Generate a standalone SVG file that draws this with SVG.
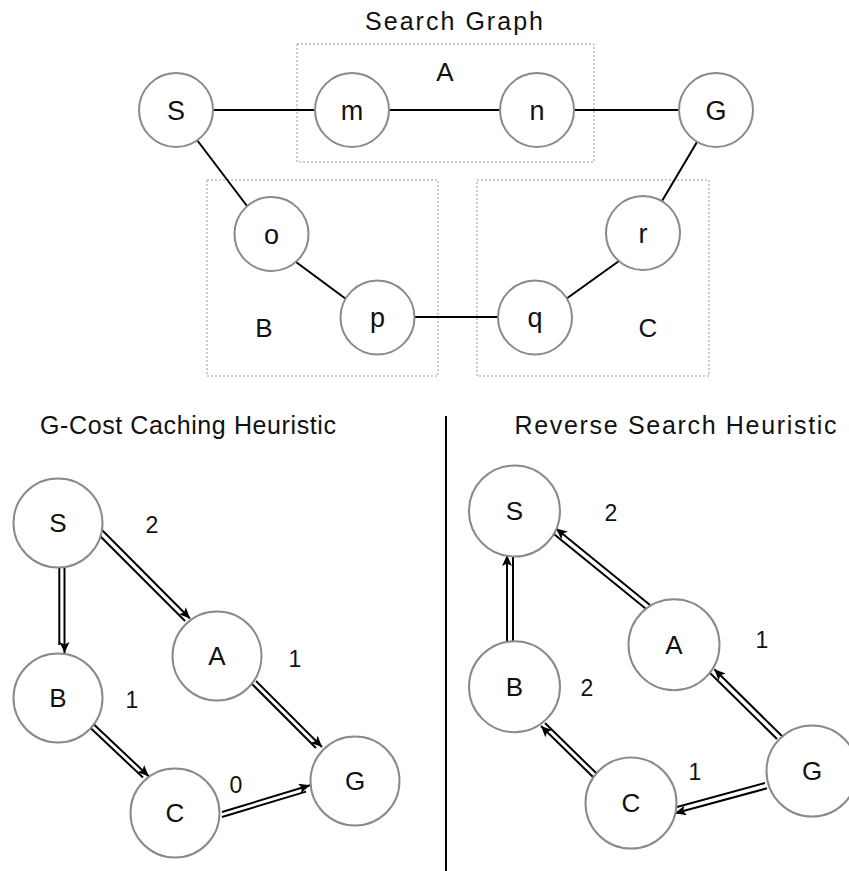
<svg xmlns="http://www.w3.org/2000/svg" width="849" height="871" viewBox="0 0 849 871">
<style>
text{font-family:"Liberation Sans",Arial,sans-serif;fill:#111;text-anchor:middle}
.title{font-size:25px}
.lbl{font-size:27px}
.blbl{font-size:26px}
.num{font-size:23px}
.node circle{fill:#fff;stroke:#8a8a8a;stroke-width:2}
.box{fill:none;stroke:#999;stroke-width:1;stroke-dasharray:2 2}
.edge{stroke:#000;stroke-width:2;fill:none}
.dbl{stroke:#000;stroke-width:2;fill:none}
</style>
<defs>
<marker id="ah" markerUnits="userSpaceOnUse" markerWidth="12" markerHeight="10" refX="11" refY="5" orient="auto">
<path d="M0,0 L11,5 L0,10 L2.5,5 z" fill="#000"/>
</marker>
</defs>
<rect width="849" height="871" fill="#fff"/>
<text class="title" x="454" y="30" textLength="178">Search Graph</text>
<g id="groups">
<rect class="box" x="297" y="44" width="297" height="118"/>
<text class="blbl" x="445" y="81">A</text>
<rect class="box" x="207" y="180" width="231" height="196"/>
<text class="blbl" x="264" y="337">B</text>
<rect class="box" x="477" y="180" width="232" height="196"/>
<text class="blbl" x="648" y="337">C</text>
</g>
<g id="top-edges">
<line class="edge" x1="213" y1="110" x2="315" y2="110"/>
<line class="edge" x1="389" y1="110" x2="500" y2="110"/>
<line class="edge" x1="574" y1="110" x2="679" y2="110"/>
<line class="edge" x1="197" y1="140" x2="247" y2="206"/>
<line class="edge" x1="296" y1="262" x2="346" y2="299"/>
<line class="edge" x1="414" y1="317" x2="498" y2="317"/>
<line class="edge" x1="566" y1="299" x2="619" y2="261"/>
<line class="edge" x1="662" y1="201" x2="697" y2="142"/>
</g>
<g id="node-S-top" class="node"><circle cx="176" cy="110" r="37"/><text class="lbl" x="176" y="120">S</text></g>
<g id="node-m" class="node"><circle cx="352" cy="110" r="37"/><text class="lbl" x="352" y="120">m</text></g>
<g id="node-n" class="node"><circle cx="537" cy="110" r="37"/><text class="lbl" x="537" y="120">n</text></g>
<g id="node-G-top" class="node"><circle cx="716" cy="110" r="37"/><text class="lbl" x="716" y="120">G</text></g>
<g id="node-o" class="node"><circle cx="271.5" cy="234" r="37"/><text class="lbl" x="271.5" y="244">o</text></g>
<g id="node-p" class="node"><circle cx="377.5" cy="317.5" r="37"/><text class="lbl" x="377.5" y="327">p</text></g>
<g id="node-q" class="node"><circle cx="535" cy="317.5" r="37"/><text class="lbl" x="535" y="327">q</text></g>
<g id="node-r" class="node"><circle cx="643" cy="233" r="37"/><text class="lbl" x="643" y="243">r</text></g>

<text class="title" x="188" y="434" textLength="296">G-Cost Caching Heuristic</text>
<text class="title" x="675.5" y="434" textLength="322">Reverse Search Heuristic</text>
<line x1="446" y1="416" x2="446" y2="871" stroke="#000" stroke-width="2"/>

<g id="connectors">
<line class="dbl" x1="64.5" y1="568" x2="64.5" y2="653" marker-end="url(#ah)"/>
<line class="dbl" x1="59.3" y1="568" x2="59.3" y2="645"/>
<line class="dbl" x1="102" y1="530" x2="190" y2="618.5" marker-end="url(#ah)"/>
<line class="dbl" x1="99" y1="535" x2="185" y2="621"/>
<line class="dbl" x1="256" y1="681" x2="322" y2="747" marker-end="url(#ah)"/>
<line class="dbl" x1="252" y1="684" x2="316" y2="748"/>
<line class="dbl" x1="93.7" y1="724.2" x2="148.7" y2="776.2" marker-end="url(#ah)"/>
<line class="dbl" x1="90.3" y1="727.8" x2="143" y2="777.6"/>
<line class="dbl" x1="222" y1="812" x2="310" y2="785.3" marker-end="url(#ah)"/>
<line class="dbl" x1="222" y1="817" x2="306" y2="791.6"/>

<line class="dbl" x1="507" y1="642" x2="507" y2="555" marker-end="url(#ah)"/>
<line class="dbl" x1="513" y1="642" x2="513" y2="557"/>
<line class="dbl" x1="650" y1="605" x2="556" y2="528.5" marker-end="url(#ah)"/>
<line class="dbl" x1="645.5" y1="608.5" x2="552" y2="532.5"/>
<line class="dbl" x1="783" y1="737" x2="714.3" y2="669.3" marker-end="url(#ah)"/>
<line class="dbl" x1="777" y1="739" x2="710" y2="673"/>
<line class="dbl" x1="593" y1="777" x2="541" y2="726" marker-end="url(#ah)"/>
<line class="dbl" x1="596.4" y1="773.3" x2="545" y2="723"/>
<line class="dbl" x1="767" y1="788.3" x2="675" y2="813.3" marker-end="url(#ah)"/>
<line class="dbl" x1="765" y1="783" x2="677" y2="807"/>
</g>

<g id="node-S-left" class="node"><circle cx="58" cy="523" r="44.5"/><text class="blbl" x="58" y="532">S</text></g>
<g id="node-A-left" class="node"><circle cx="217" cy="656" r="44.5"/><text class="blbl" x="217" y="665">A</text></g>
<g id="node-B-left" class="node"><circle cx="58" cy="698" r="44.5"/><text class="blbl" x="58" y="707">B</text></g>
<g id="node-C-left" class="node"><circle cx="175" cy="813" r="44.5"/><text class="blbl" x="175" y="822">C</text></g>
<g id="node-G-left" class="node"><circle cx="355" cy="781" r="44.5"/><text class="blbl" x="355" y="790">G</text></g>
<text class="num" x="152" y="533">2</text>
<text class="num" x="295" y="667">1</text>
<text class="num" x="132" y="708">1</text>
<text class="num" x="236" y="793">0</text>

<g id="node-S-right" class="node"><circle cx="514.5" cy="511" r="45.5"/><text class="blbl" x="514.5" y="520">S</text></g>
<g id="node-A-right" class="node"><circle cx="674" cy="644.7" r="45.5"/><text class="blbl" x="674" y="654">A</text></g>
<g id="node-B-right" class="node"><circle cx="514.5" cy="686.7" r="45.5"/><text class="blbl" x="514.5" y="696">B</text></g>
<g id="node-C-right" class="node"><circle cx="631" cy="803" r="45.5"/><text class="blbl" x="631" y="812">C</text></g>
<g id="node-G-right" class="node"><circle cx="812" cy="771" r="45.5"/><text class="blbl" x="812" y="780">G</text></g>
<text class="num" x="611" y="521">2</text>
<text class="num" x="762" y="648">1</text>
<text class="num" x="587" y="696">2</text>
<text class="num" x="695" y="780">1</text>
</svg>
